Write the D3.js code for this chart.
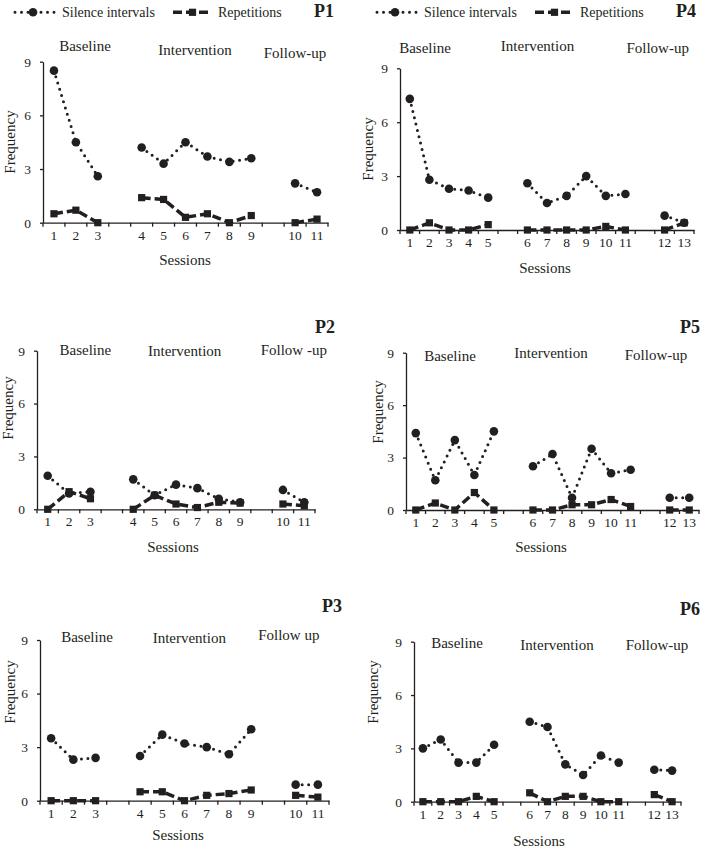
<!DOCTYPE html>
<html>
<head>
<meta charset="utf-8">
<script src="https://cdn.jsdelivr.net/npm/d3@7"></script>
<style>
  body { margin: 0; background: #fff; }
  svg { display: block; }
  text { font-family: "Liberation Serif", "Times New Roman", serif; fill: #231f20; }
</style>
</head>
<body>
<svg id="chart"></svg>
<script>
// category slots along the x axis, "gA"/"gB" are the empty slots between phases
let slotsShort = ["1", "2", "3", "gA", "4", "5", "6", "7", "8", "9", "gB", "10", "11"];
let slotsLong = ["1", "2", "3", "4", "5", "gA", "6", "7", "8", "9", "10", "11", "gB", "12", "13"];
let phasesShort = [[1, 3], [4, 9], [10, 11]];
let phasesLong = [[1, 5], [6, 11], [12, 13]];
let yTicks = [0, 3, 6, 9];
let seriesNames = ["Silence intervals", "Repetitions"];

// values, one per session
let p1Silence = [8.5, 4.5, 2.6, 4.2, 3.3, 4.5, 3.7, 3.4, 3.6, 2.2, 1.7];
let p1Repetitions = [0.5, 0.7, 0, 1.4, 1.3, 0.3, 0.5, 0, 0.4, 0, 0.2];
let p2Silence = [1.9, 0.9, 1.0, 1.7, 0.8, 1.4, 1.2, 0.6, 0.4, 1.1, 0.4];
let p2Repetitions = [0, 1.0, 0.6, 0, 0.8, 0.3, 0.1, 0.4, 0.35, 0.3, 0.2];
let p3Silence = [3.5, 2.3, 2.4, 2.5, 3.7, 3.2, 3.0, 2.6, 4.0, 0.9, 0.9];
let p3Repetitions = [0, 0, 0, 0.5, 0.5, 0, 0.3, 0.4, 0.6, 0.3, 0.2];
let p4Silence = [7.3, 2.8, 2.3, 2.2, 1.8, 2.6, 1.5, 1.9, 3.0, 1.9, 2.0, 0.8, 0.4];
let p4Repetitions = [0, 0.4, 0, 0, 0.3, 0, 0, 0, 0, 0.2, 0, 0, 0.4];
let p5Silence = [4.4, 1.7, 4.0, 2.0, 4.5, 2.5, 3.2, 0.7, 3.5, 2.1, 2.3, 0.7, 0.7];
let p5Repetitions = [0, 0.4, 0, 1.0, 0, 0, 0, 0.3, 0.3, 0.6, 0.2, 0, 0];
let p6Silence = [3.0, 3.5, 2.2, 2.2, 3.2, 4.5, 4.2, 2.1, 1.5, 2.6, 2.2, 1.8, 1.75];
let p6Repetitions = [0, 0, 0, 0.3, 0, 0.5, 0, 0.3, 0.3, 0, 0, 0.4, 0];

let labelsA = ["Baseline", "Intervention", "Follow-up"];
let labelsP2 = ["Baseline", "Intervention", "Follow -up"];
let labelsP3 = ["Baseline", "Intervention", "Follow up"];

let ink = "#231f20";

// where each panel sits on the page
let panels = [
  { name: "P1", slots: slotsShort, phases: phasesShort, silence: p1Silence, reps: p1Repetitions, labels: labelsA,
    x: [43, 328], y: [222.7, 61.7], title: [314, 16.7], freq: [10, 142], sess: [185, 260],
    phasePos: [[85, 50.7], [195, 55], [295, 58]], legend: [15, 173] },
  { name: "P4", slots: slotsLong, phases: phasesLong, silence: p4Silence, reps: p4Repetitions, labels: labelsA,
    x: [400, 694], y: [230, 68.3], title: [676, 16.7], freq: [368, 149], sess: [545, 268],
    phasePos: [[425, 52.7], [537.5, 50.7], [657.7, 53.3]], legend: [377, 535] },
  { name: "P2", slots: slotsShort, phases: phasesShort, silence: p2Silence, reps: p2Repetitions, labels: labelsP2,
    x: [37, 315], y: [509.3, 350.7], title: [315, 333], freq: [8, 408], sess: [173, 547],
    phasePos: [[85.3, 355], [184.7, 356], [293.8, 355]] },
  { name: "P5", slots: slotsLong, phases: phasesLong, silence: p5Silence, reps: p5Repetitions, labels: labelsA,
    x: [406, 699], y: [510, 352.7], title: [680, 333], freq: [378, 412], sess: [541, 547],
    phasePos: [[450, 360.7], [551, 358.3], [656, 360]] },
  { name: "P3", slots: slotsShort, phases: phasesShort, silence: p3Silence, reps: p3Repetitions, labels: labelsP3,
    x: [40, 329], y: [800.7, 640], title: [322, 611.7], freq: [10, 692], sess: [178, 835],
    phasePos: [[87, 641.7], [189.3, 642.7], [288.8, 640]] },
  { name: "P6", slots: slotsLong, phases: phasesLong, silence: p6Silence, reps: p6Repetitions, labels: labelsA,
    x: [414, 681], y: [801.7, 641.7], title: [680, 615], freq: [373, 692], sess: [539, 841],
    phasePos: [[457, 647.7], [557, 650], [657, 650]] }
];

let svg = d3.select("#chart")
            .attr("width", 703)
            .attr("height", 850);

function sessionsOf(slots) {
  return slots.filter(s => !s.startsWith("g")).map(Number);
}

function drawSilenceLine(g, pts) {
  g.append("path")
    .attr("d", d3.line()(pts))
    .attr("fill", "none")
    .attr("stroke", ink)
    .attr("stroke-width", 3)
    .attr("stroke-linecap", "round")
    .attr("stroke-dasharray", "0 6.5");
}

function drawRepLine(g, pts) {
  g.append("path")
    .attr("d", d3.line()(pts))
    .attr("fill", "none")
    .attr("stroke", ink)
    .attr("stroke-width", 3.5)
    .attr("stroke-dasharray", "9 4");
}

function drawSilenceMark(g, x, y) {
  g.append("circle").attr("cx", x).attr("cy", y).attr("r", 4.3).attr("fill", ink);
}

function drawRepMark(g, x, y) {
  g.append("path")
    .attr("d", d3.symbol(d3.symbolSquare, 52)())
    .attr("transform", "translate(" + x + "," + y + ")")
    .attr("fill", ink);
}

panels.forEach(p => {
  let g = svg.append("g");

  let xScale = d3.scaleBand()
                 .domain(p.slots)
                 .range(p.x)
                 .padding(0);

  let yScale = d3.scaleLinear()
                 .domain([0, 9])
                 .range(p.y);

  let cx = s => xScale(String(s)) + xScale.bandwidth() / 2;

  // y axis
  let yAxis = d3.axisLeft(yScale)
                .tickValues(yTicks)
                .tickSize(3)
                .tickSizeOuter(0)
                .tickPadding(9);

  let ya = g.append("g")
            .attr("transform", "translate(" + p.x[0] + ",0)")
            .call(yAxis);
  ya.selectAll("text").style("font-size", "13.5px");
  ya.selectAll("path, line").attr("stroke", ink).attr("stroke-width", 1.3);

  // x axis: labels in slot centres, tick marks on slot boundaries
  let xAxis = d3.axisBottom(xScale)
                .tickSize(0)
                .tickPadding(12)
                .tickFormat(d => d.startsWith("g") ? "" : d);

  let xa = g.append("g")
            .attr("transform", "translate(0," + p.y[0] + ")")
            .call(xAxis);
  xa.selectAll("text").style("font-size", "13.5px").attr("dy", "0.36em");
  xa.select(".domain").attr("stroke", ink).attr("stroke-width", 1.3);

  let bounds = p.slots.map(s => xScale(s)).concat([p.x[1]]);
  g.selectAll(".xtick")
    .data(bounds)
    .enter()
    .append("line")
    .attr("x1", d => d)
    .attr("x2", d => d)
    .attr("y1", p.y[0])
    .attr("y2", p.y[0] + 4)
    .attr("stroke", ink)
    .attr("stroke-width", 1.3);

  // axis titles
  g.append("text")
    .attr("transform", "translate(" + p.freq[0] + "," + p.freq[1] + ") rotate(-90)")
    .attr("text-anchor", "middle")
    .attr("dominant-baseline", "central")
    .style("font-size", "15px")
    .text("Frequency");

  g.append("text")
    .attr("x", p.sess[0])
    .attr("y", p.sess[1])
    .attr("text-anchor", "middle")
    .attr("dominant-baseline", "central")
    .style("font-size", "15px")
    .text("Sessions");

  // phase labels
  p.labels.forEach((lab, i) => {
    g.append("text")
      .attr("x", p.phasePos[i][0])
      .attr("y", p.phasePos[i][1])
      .attr("text-anchor", "middle")
      .style("font-size", "15px")
      .text(lab);
  });

  // panel name
  g.append("text")
    .attr("x", p.title[0])
    .attr("y", p.title[1])
    .style("font-size", "18px")
    .style("font-weight", "bold")
    .text(p.name);

  // lines, one segment per phase
  let sessions = sessionsOf(p.slots);
  p.phases.forEach(([a, b]) => {
    let idx = sessions.map((s, i) => i).filter(i => sessions[i] >= a && sessions[i] <= b);
    drawSilenceLine(g, idx.map(i => [cx(sessions[i]), yScale(p.silence[i])]));
    drawRepLine(g, idx.map(i => [cx(sessions[i]), yScale(p.reps[i])]));
  });

  sessions.forEach((s, i) => {
    drawSilenceMark(g, cx(s), yScale(p.silence[i]));
    drawRepMark(g, cx(s), yScale(p.reps[i]));
  });

  // legend (top row only)
  if (p.legend) {
    let ly = 12.3;
    let sx = p.legend[0];
    drawSilenceLine(g, [[sx, ly], [sx + 42, ly]]);
    drawSilenceMark(g, sx + 18, ly);
    g.append("text")
      .attr("x", sx + 47)
      .attr("y", 16.5)
      .style("font-size", "14px")
      .text(seriesNames[0]);

    let rx = p.legend[1];
    drawRepLine(g, [[rx, ly], [rx + 39, ly]]);
    drawRepMark(g, rx + 19.5, ly);
    g.append("text")
      .attr("x", rx + 45)
      .attr("y", 16.5)
      .style("font-size", "14px")
      .text(seriesNames[1]);
  }
});
</script>
</body>
</html>
